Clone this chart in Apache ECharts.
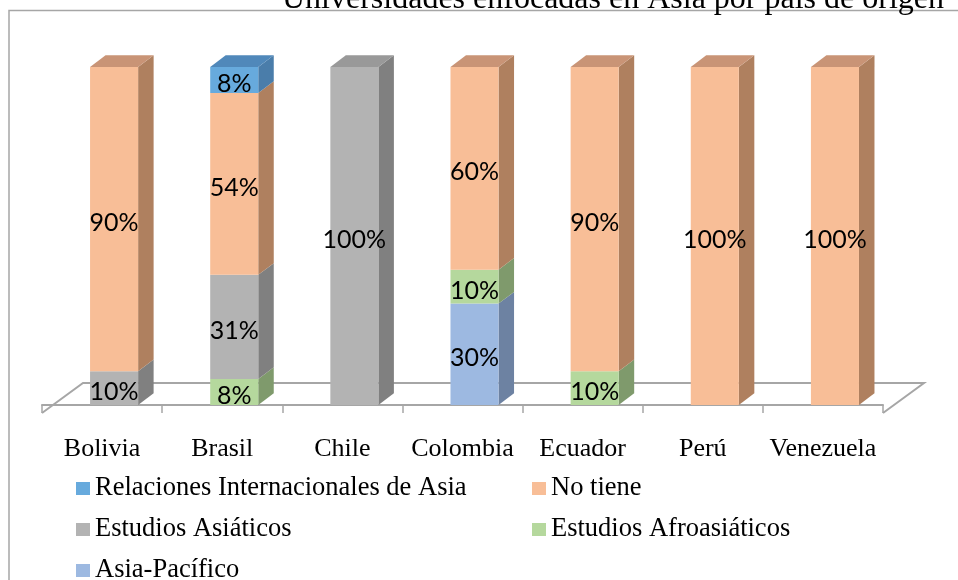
<!DOCTYPE html>
<html>
<head>
<meta charset="utf-8">
<script src="https://cdn.jsdelivr.net/npm/echarts@6/dist/echarts.min.js"></script>
<style>
  html, body { margin: 0; padding: 0; background: #fff; }
  #myChart { width: 958px; height: 580px; }
</style>
</head>
<body>
<div id="myChart"></div>
<script>
const categories = ['Bolivia', 'Brasil', 'Chile', 'Colombia', 'Ecuador', 'Perú', 'Venezuela']
const asiaPacifico = [0, 0, 0, 30, 0, 0, 0]
const afroasiaticos = [0, 7.7, 0, 10, 10, 0, 0]
const asiaticos = [10, 30.8, 100, 0, 0, 0, 0]
const noTiene = [90, 53.8, 0, 60, 90, 100, 100]
const relaciones = [0, 7.7, 0, 0, 0, 0, 0]

// stacked bottom -> top, like the original
const stackList = [
  { name: 'Asia-Pacífico', values: asiaPacifico, front: '#9DB9E1', side: '#6D82A2', top: '#8AA3C8' },
  { name: 'Estudios Afroasiáticos', values: afroasiaticos, front: '#B5D89D', side: '#7F9A6C', top: '#9FBF89' },
  { name: 'Estudios Asiáticos', values: asiaticos, front: '#B3B3B3', side: '#808080', top: '#999999' },
  { name: 'No tiene', values: noTiene, front: '#F8BE97', side: '#AF805F', top: '#C99476' },
  { name: 'Relaciones Internacionales de Asia', values: relaciones, front: '#67AADD', side: '#4A7DAA', top: '#5088BA' }
]

const DX = 15.5
const DY = -11.7
const FLOOR_DX = 41
const FLOOR_DY = -30
const FLOOR_DROP = 8

function barItem (s) {
  return function (params, api) {
    const x = api.value(0)
    const v = api.value(1)
    const base = api.value(2)
    if (!v) return null
    const bw = api.size([1, 0])[0]
    const pTop = api.coord([x, base + v])
    const pBot = api.coord([x, base])
    const left = pTop[0] - bw * 0.1
    const right = pTop[0] + bw * 0.3
    const children = [
      {
        type: 'polygon',
        shape: { points: [[right, pTop[1]], [right + DX, pTop[1] + DY], [right + DX, pBot[1] + DY], [right, pBot[1]]] },
        style: { fill: s.side }
      },
      {
        type: 'rect',
        shape: { x: left, y: pTop[1], width: right - left, height: pBot[1] - pTop[1] },
        style: { fill: s.front }
      }
    ]
    if (base + v > 99.5) {
      children.push({
        type: 'polygon',
        shape: { points: [[left, pTop[1]], [left + DX, pTop[1] + DY], [right + DX, pTop[1] + DY], [right, pTop[1]]] },
        style: { fill: s.top }
      })
    }
    children.push({
      type: 'text',
      style: {
        text: Math.round(v) + '%',
        x: (left + right) / 2,
        y: (pTop[1] + pBot[1]) / 2 + 4,
        align: 'center',
        verticalAlign: 'middle',
        fill: '#000',
        font: '25px Lato'
      }
    })
    return { type: 'group', children: children }
  }
}

function floorItem (params, api) {
  const bw = api.size([1, 0])[0]
  const p0 = api.coord([0, 0])
  const p1 = api.coord([categories.length - 1, 0])
  const y = p0[1] + FLOOR_DROP
  const xl = p0[0] - bw / 2
  const xr = p1[0] + bw / 2
  return {
    type: 'polyline',
    shape: { points: [[xl, y], [xl + FLOOR_DX, y + FLOOR_DY], [xr + FLOOR_DX, y + FLOOR_DY], [xr, y]] },
    style: { stroke: '#A6A6A6', lineWidth: 2, fill: null }
  }
}

const series = [{
  type: 'custom',
  name: 'floor',
  renderItem: floorItem,
  data: [[0, 0]],
  silent: true
}]

const running = categories.map(() => 0)
stackList.forEach(function (s) {
  const data = s.values.map(function (v, i) {
    const d = [i, v, running[i]]
    running[i] += v
    return d
  })
  series.push({
    type: 'custom',
    name: s.name,
    itemStyle: { color: s.front },
    renderItem: barItem(s),
    data: data
  })
})

const legendText = { fontFamily: 'Liberation Serif', fontSize: 26.5, color: '#000' }

let myChart = echarts.init(document.getElementById('myChart'))
myChart.setOption({
  animation: false,
  grid: { left: 42, right: 75, top: 67, bottom: 175 },
  xAxis: {
    type: 'category',
    data: categories,
    offset: FLOOR_DROP,
    axisLine: { lineStyle: { color: '#A6A6A6', width: 2 } },
    axisTick: { show: true, length: 8, interval: 0, lineStyle: { color: '#A6A6A6', width: 1.5 } },
    axisLabel: { margin: 23, interval: 0, fontFamily: 'Liberation Serif', fontSize: 26, color: '#000' }
  },
  yAxis: {
    type: 'value',
    min: 0,
    max: 100,
    show: false
  },
  legend: [{
    left: 76,
    top: 475,
    height: 200,
    orient: 'vertical',
    padding: 0,
    itemGap: 14,
    itemWidth: 14,
    itemHeight: 13,
    icon: 'rect',
    textStyle: legendText,
    data: ['Relaciones Internacionales de Asia', 'Estudios Asiáticos', 'Asia-Pacífico']
  }, {
    left: 532,
    top: 475,
    height: 200,
    orient: 'vertical',
    padding: 0,
    itemGap: 14,
    itemWidth: 14,
    itemHeight: 13,
    icon: 'rect',
    textStyle: legendText,
    data: ['No tiene', 'Estudios Afroasiáticos']
  }],
  graphic: [{
    type: 'rect',
    z: -10,
    shape: { x: 9, y: 10.5, width: 1000, height: 700 },
    style: { fill: null, stroke: '#A6A6A6', lineWidth: 1.5 }
  }, {
    type: 'text',
    z: 10,
    style: {
      text: 'Universidades enfocadas en Asia por país de origen',
      x: 944,
      y: 16,
      align: 'right',
      verticalAlign: 'bottom',
      fill: '#000',
      font: '32px "Liberation Serif"'
    }
  }],
  series: series
})
</script>
</body>
</html>
